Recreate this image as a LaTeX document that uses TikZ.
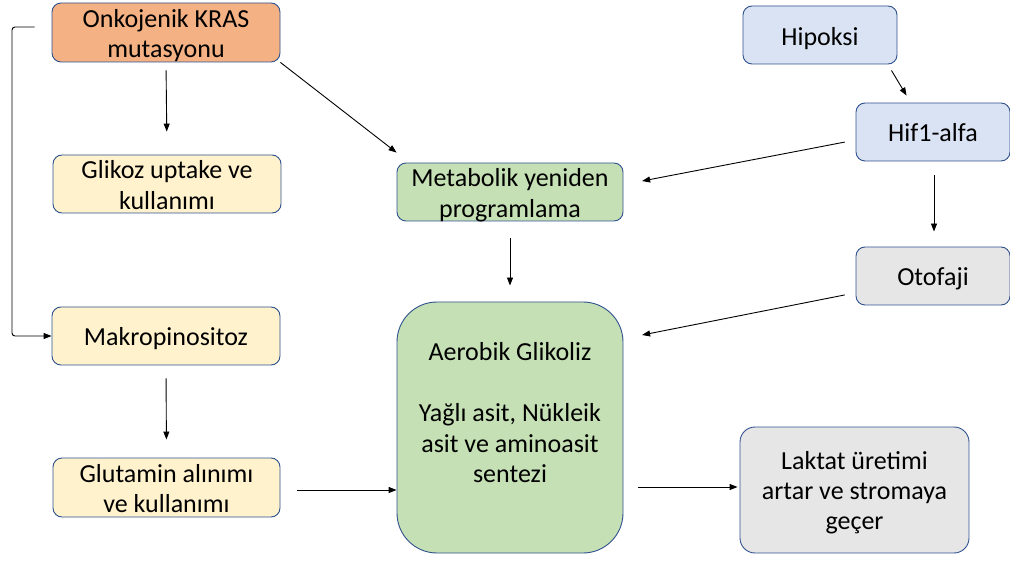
\documentclass[tikz,border=0pt]{standalone}
\usepackage{fontspec}
\setmainfont{Carlito}
\usetikzlibrary{arrows.meta,calc}
\definecolor{bordc}{RGB}{47,82,143}
\definecolor{orangef}{RGB}{244,177,131}
\definecolor{yellowf}{RGB}{255,242,204}
\definecolor{greenf}{RGB}{197,224,180}
\definecolor{bluef}{RGB}{218,227,243}
\definecolor{greyf}{RGB}{231,230,230}
\newcommand\boxtext[2][10pt]{\raisebox{-#1}[0pt][0pt]{\begin{tabular}{@{}c@{}}#2\end{tabular}}}
\tikzset{
  box/.style={draw=bordc, line width=0.9pt, rounded corners=9pt, align=center,
    font=\fontsize{26}{30.5}\selectfont, inner sep=0pt},
  arr/.style={-{Triangle[length=8pt,width=6pt]}, line width=0.9pt},
}
\begin{document}
\begin{tikzpicture}[x=1pt,y=-1pt]
\useasboundingbox (0,0) rectangle (1010,561);
% nodes
\node[box, fill=orangef, minimum width=228pt, minimum height=59pt] (kras) at (166,32.5) {\boxtext{Onkojenik KRAS\\mutasyonu}};
\node[box, fill=yellowf, minimum width=228pt, minimum height=58pt] (glk) at (167,184) {\boxtext{Glikoz uptake ve\\kullanımı}};
\node[box, fill=yellowf, minimum width=228pt, minimum height=58pt] (mak) at (166,336) {\boxtext{Makropinositoz}};
\node[box, fill=yellowf, minimum width=227pt, minimum height=59pt] (glu) at (166.5,487.5) {\boxtext{Glutamin alınımı\\ve kullanımı}};
\node[box, fill=greenf, minimum width=226pt, minimum height=58pt] (meta) at (510,192) {\boxtext{Metabolik yeniden\\programlama}};
\node[box, fill=greenf, rounded corners=40pt, minimum width=226pt, minimum height=251pt] (aer) at (510,427.5) {\boxtext[-5.5pt]{Aerobik Glikoliz\\ \\Yağlı asit, Nükleik\\asit ve aminoasit\\sentezi}};
\node[box, fill=bluef, minimum width=154pt, minimum height=58pt] (hip) at (820,35) {\boxtext[11pt]{Hipoksi}};
\node[box, fill=bluef, minimum width=154pt, minimum height=58pt] (hif) at (933,132) {\boxtext{Hif1-alfa}};
\node[box, fill=greyf, minimum width=154pt, minimum height=58pt] (oto) at (933,276) {\boxtext{Otofaji}};
\node[box, fill=greyf, rounded corners=15pt, font=\fontsize{26}{30}\selectfont, minimum width=229pt, minimum height=126pt] (lak) at (854.5,490) {\boxtext{Laktat üretimi\\artar ve stromaya\\geçer}};
% connectors
\draw[arr, shorten <=8pt, shorten >=23pt] (kras.south) -- (glk.north);
\draw[arr] (kras.south east) -- ($(meta.north west)+(0,-10)$);
\coordinate (brk) at ($(kras.west)+(-17,-5.5)$);
\draw[arr, rounded corners=3pt] (brk) -- (12,27) |- (mak.west);
\draw[arr, shorten <=13pt, shorten >=18pt] (mak.south) -- (glu.north);
\coordinate (gluout) at ($(glu.east)+(17,2.5)$);
\draw[arr] (gluout) -- (aer.west |- gluout);
\draw[arr, shorten <=17pt, shorten >=16pt] (meta.south) -- (aer.north);
\draw[arr, shorten <=11pt, shorten >=19pt] ($(hif.west)+(0,8)$) -- ($(meta.east)+(0,-7.4)$);
\draw[arr] ($(hip.south east)+(-6,6)$) -- ($(hif.north west)+(51,-7)$);
\draw[arr, shorten <=14pt, shorten >=15pt] ($(hif.south)+(1,0)$) -- ($(oto.north)+(1,0)$);
\draw[arr, shorten <=11pt, shorten >=19pt] ($(oto.west)+(0,16.8)$) -- ($(aer.east)+(0,-88.8)$);
\coordinate (aerout) at ($(aer.east)+(15,59.5)$);
\draw[arr, shorten >=2pt] (aerout) -- (lak.west |- aerout);
\end{tikzpicture}
\end{document}
